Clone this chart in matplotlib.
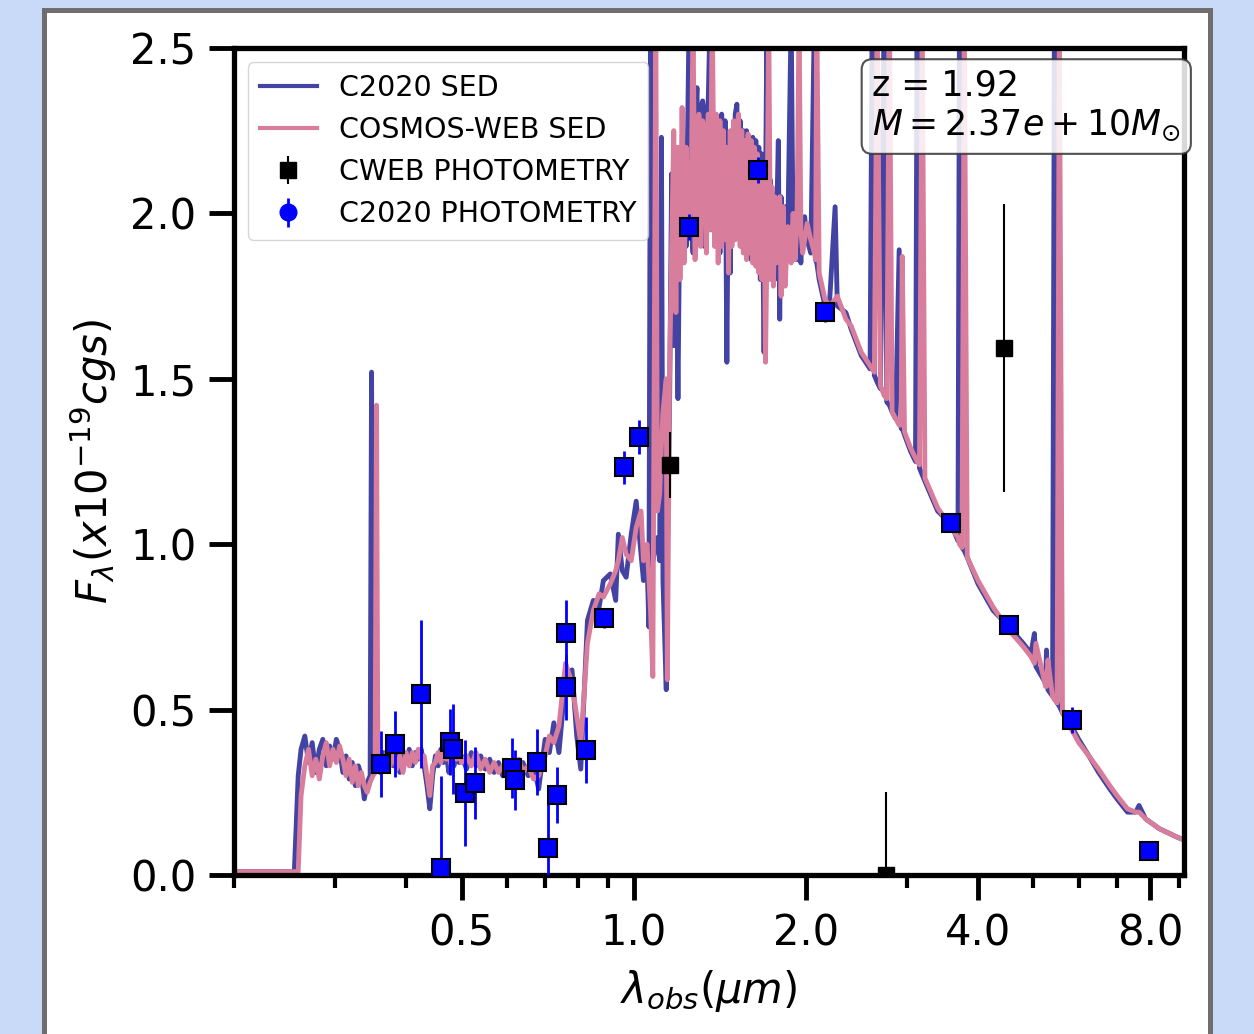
import numpy as np
import matplotlib
matplotlib.use('Agg')
import matplotlib.pyplot as plt
from matplotlib.patches import Rectangle
from matplotlib.ticker import FixedLocator, FixedFormatter, LogLocator, NullFormatter

# model SEDs (wavelength in micron, flux in 1e-19 cgs)
sed_wave = [
    # rest-UV, below the Lyman break and flat continuum
    0.200, 0.255, 0.259, 0.262, 0.266, 0.270, 0.274, 0.278, 0.282, 0.286,
    0.290, 0.294, 0.298, 0.302, 0.306, 0.310, 0.314, 0.318, 0.322, 0.326,
    0.330, 0.334, 0.338, 0.342,
    # Lya + continuum
    0.346, 0.348, 0.350, 0.353, 0.355, 0.357, 0.360, 0.365, 0.370, 0.375,
    0.380, 0.385, 0.390, 0.395, 0.400, 0.405, 0.410, 0.415, 0.420, 0.425,
    0.430, 0.435, 0.440, 0.445, 0.450, 0.455, 0.460, 0.465, 0.470, 0.475,
    0.480, 0.485, 0.490, 0.495, 0.500,
    # up to the break
    0.510, 0.520, 0.530, 0.540, 0.550, 0.560, 0.570, 0.580, 0.590, 0.600,
    0.610, 0.620, 0.630, 0.640, 0.654, 0.668, 0.682, 0.700, 0.712, 0.725,
    0.740, 0.760, 0.780, 0.795, 0.808, 0.830, 0.850, 0.870, 0.885, 0.910,
    0.930, 0.940, 0.955, 0.970, 0.990, 1.010, 1.030, 1.040, 1.055, 1.063,
    # peak region with lines
    1.070, 1.080, 1.093, 1.100, 1.110, 1.118, 1.125, 1.140, 1.145, 1.155,
    1.165, 1.175, 1.185, 1.195, 1.205, 1.215, 1.225, 1.235, 1.250, 1.262,
    1.270, 1.280, 1.290, 1.300, 1.310, 1.320, 1.330, 1.340, 1.350, 1.360,
    1.372, 1.385, 1.395, 1.405, 1.415, 1.425, 1.435, 1.445, 1.455, 1.465,
    1.475, 1.485, 1.495, 1.505, 1.515, 1.525, 1.535, 1.545, 1.555, 1.565,
    1.575, 1.585, 1.595, 1.605, 1.615, 1.625, 1.635, 1.645, 1.655, 1.665,
    1.675, 1.690, 1.700, 1.710, 1.722, 1.735, 1.745, 1.755, 1.765, 1.775,
    1.790, 1.800, 1.810, 1.825, 1.840, 1.860, 1.885, 1.900, 1.915, 1.930,
    1.946, 1.960, 1.975, 1.990, 2.010, 2.040, 2.070, 2.080, 2.090, 2.110,
    # red tail
    2.160, 2.200, 2.250, 2.270, 2.350, 2.400, 2.500, 2.590, 2.612, 2.635,
    2.665, 2.700, 2.740, 2.770, 2.800, 2.830, 2.870, 2.912, 2.935, 2.948,
    2.975, 3.050, 3.110, 3.130, 3.160, 3.195, 3.230, 3.400, 3.590, 3.690,
    3.712, 3.750, 3.785, 3.830, 4.000, 4.250, 4.530, 4.800, 4.950, 5.020,
    5.050, 5.250, 5.270, 5.300, 5.400, 5.440, 5.500, 5.550, 5.620, 5.830,
    6.000, 6.250, 6.500, 6.800, 7.000, 7.300, 7.550, 7.650, 7.850, 8.300,
    8.900, 9.200,
]
sed_c2020 = [
    0.01, 0.01, 0.30, 0.38, 0.42, 0.34, 0.40, 0.31, 0.38, 0.41,
    0.33, 0.39, 0.35, 0.41, 0.38, 0.31, 0.36, 0.29, 0.34, 0.27,
    0.33, 0.30, 0.23, 0.28,
    0.30, 1.52, 0.32, 0.34, 0.33, 0.36, 0.31, 0.37, 0.32, 0.38,
    0.33, 0.37, 0.31, 0.36, 0.34, 0.38, 0.33, 0.37, 0.35, 0.38,
    0.33, 0.27, 0.20, 0.30, 0.36, 0.33, 0.38, 0.34, 0.37, 0.31,
    0.36, 0.33, 0.38, 0.34, 0.36,
    0.32, 0.37, 0.33, 0.36, 0.32, 0.35, 0.31, 0.34, 0.30, 0.33,
    0.30, 0.34, 0.31, 0.34, 0.30, 0.33, 0.26, 0.41, 0.37, 0.46,
    0.37, 0.59, 0.62, 0.42, 0.32, 0.77, 0.83, 0.81, 0.89, 0.91,
    0.83, 1.03, 0.92, 0.90, 1.03, 1.13, 0.97, 0.89, 0.95, 0.75,
    2.60, 0.95, 1.00, 1.02, 0.95, 2.23, 0.89, 0.56, 0.97, 1.40,
    2.12, 1.60, 2.05, 1.44, 2.10, 1.85, 2.14, 1.90, 2.60, 1.95,
    1.88, 2.25, 2.38, 1.95, 2.32, 2.34, 1.90, 2.30, 2.34, 2.60,
    1.95, 2.28, 1.92, 2.25, 1.88, 2.30, 1.95, 2.28, 1.55, 2.20,
    1.82, 2.25, 1.95, 2.30, 2.33, 1.95, 2.28, 1.90, 2.25, 1.88,
    2.25, 1.90, 2.22, 1.86, 2.23, 1.85, 2.22, 1.84, 2.20, 1.80,
    2.18, 1.58, 2.05, 2.60, 1.85, 2.10, 1.82, 2.06, 1.80, 1.92,
    2.22, 1.68, 2.05, 1.80, 2.02, 1.95, 2.60, 1.90, 1.98, 1.86,
    1.95, 1.85, 1.97, 1.99, 1.92, 1.88, 2.60, 1.86, 1.85, 1.80,
    1.72, 1.73, 2.02, 1.72, 1.70, 1.65, 1.57, 1.53, 2.60, 1.51,
    1.49, 1.47, 2.60, 1.43, 1.42, 1.40, 1.38, 1.89, 1.35, 1.35,
    1.33, 1.28, 1.25, 2.60, 1.23, 1.21, 1.19, 1.10, 1.06, 1.01,
    2.60, 0.99, 0.98, 0.96, 0.88, 0.80, 0.75, 0.70, 0.67, 0.73,
    0.63, 0.58, 0.68, 0.56, 0.54, 2.60, 0.52, 0.51, 0.49, 0.45,
    0.41, 0.36, 0.31, 0.26, 0.23, 0.19, 0.19, 0.21, 0.17, 0.14,
    0.115, 0.105,
]
sed_cweb = [
    0.01, 0.01, 0.01, 0.24, 0.33, 0.38, 0.30, 0.35, 0.29, 0.36,
    0.40, 0.33, 0.38, 0.34, 0.39, 0.35, 0.30, 0.35, 0.28, 0.33,
    0.27, 0.31, 0.27, 0.25,
    0.28, 0.29, 0.30, 0.31, 1.42, 0.32, 0.35, 0.32, 0.37, 0.33,
    0.38, 0.32, 0.36, 0.31, 0.37, 0.33, 0.37, 0.34, 0.38, 0.35,
    0.36, 0.30, 0.24, 0.33, 0.34, 0.37, 0.34, 0.38, 0.35, 0.36,
    0.33, 0.38, 0.35, 0.37, 0.34,
    0.36, 0.33, 0.37, 0.32, 0.35, 0.31, 0.34, 0.31, 0.33, 0.30,
    0.34, 0.31, 0.35, 0.31, 0.33, 0.29, 0.30, 0.36, 0.42, 0.40,
    0.45, 0.64, 0.58, 0.48, 0.40, 0.70, 0.80, 0.85, 0.84, 0.88,
    0.92, 0.95, 1.02, 0.97, 0.95, 1.05, 1.10, 0.95, 1.00, 0.90,
    0.80, 0.60, 2.60, 1.10, 1.15, 1.30, 1.40, 1.50, 0.59, 1.50,
    1.90, 2.25, 1.70, 2.20, 1.80, 2.32, 1.85, 2.20, 1.95, 2.15,
    2.60, 1.86, 1.95, 2.30, 1.90, 2.28, 2.25, 1.88, 2.30, 1.95,
    2.60, 1.90, 2.30, 1.85, 2.28, 1.90, 2.25, 1.92, 2.20, 1.82,
    2.25, 1.90, 2.28, 1.92, 2.25, 2.30, 1.90, 2.25, 1.88, 2.22,
    1.86, 2.24, 1.88, 2.22, 1.85, 2.20, 1.84, 2.18, 1.82, 2.15,
    1.80, 2.10, 1.55, 1.90, 2.60, 1.80, 2.08, 1.78, 2.05, 1.85,
    1.95, 2.05, 1.75, 2.02, 1.78, 1.96, 1.85, 2.00, 1.86, 1.98,
    2.60, 1.95, 1.88, 1.92, 1.97, 1.92, 1.88, 1.86, 2.60, 1.82,
    1.74, 1.72, 1.74, 1.75, 1.68, 1.66, 1.58, 1.54, 1.53, 1.52,
    2.60, 1.48, 1.45, 1.44, 2.60, 1.40, 1.38, 1.36, 1.36, 1.87,
    1.34, 1.29, 1.26, 1.25, 1.24, 2.60, 1.20, 1.11, 1.05, 1.02,
    1.00, 0.99, 2.60, 0.96, 0.89, 0.81, 0.74, 0.69, 0.66, 0.64,
    0.70, 0.57, 0.57, 0.65, 0.54, 0.53, 0.52, 2.60, 0.49, 0.44,
    0.40, 0.36, 0.32, 0.27, 0.24, 0.20, 0.19, 0.19, 0.17, 0.14,
    0.115, 0.105,
]

# photometry
c20_wave = [0.362, 0.382, 0.424, 0.461, 0.477, 0.484, 0.506, 0.527, 0.612, 0.621,
            0.677, 0.707, 0.735, 0.762, 0.760, 0.824, 0.889, 0.961, 1.020, 1.249,
            1.650, 2.160, 3.590, 4.530, 5.830, 7.970]
c20_flux = [0.336, 0.396, 0.547, 0.020, 0.402, 0.381, 0.248, 0.278, 0.323, 0.287,
            0.342, 0.082, 0.242, 0.732, 0.568, 0.378, 0.777, 1.233, 1.324, 1.959,
            2.131, 1.702, 1.064, 0.756, 0.469, 0.073]
c20_err = [0.10, 0.10, 0.225, 0.28, 0.10, 0.135, 0.16, 0.11, 0.09, 0.09,
           0.10, 0.17, 0.085, 0.10, 0.10, 0.10, 0.03, 0.05, 0.05, 0.04,
           0.04, 0.03, 0.02, 0.02, 0.04, 0.02]

cw_wave = [1.156, 2.76, 4.45]
cw_flux = [1.239, 0.0, 1.593]
cw_err = [0.10, 0.25, 0.435]

xticks = [0.5, 1.0, 2.0, 4.0, 8.0]
xticklabels = ['0.5', '1.0', '2.0', '4.0', '8.0']
yticks = [0.0, 0.5, 1.0, 1.5, 2.0, 2.5]

fig = plt.figure(figsize=(12.54, 10.34), dpi=100)
fig.patch.set_facecolor('#c9daf8')
fig.add_artist(Rectangle((43.5 / 1254, -0.05), (1210 - 43.5) / 1254, 1.05 - 9.5 / 1034,
                         transform=fig.transFigure, facecolor='white',
                         edgecolor='#6e6e6e', linewidth=3.6, zorder=0))

ax = fig.add_axes([0.1866, 0.1538, 0.7572, 0.7998])

l1, = ax.plot(sed_wave, sed_c2020, color='#4343a3', lw=3.5, label='C2020 SED', zorder=2)
l2, = ax.plot(sed_wave, sed_cweb, color='#d97d9c', lw=3.5, label='COSMOS-WEB SED', zorder=2)

h_cw = ax.errorbar(cw_wave, cw_flux, yerr=cw_err, fmt='s', color='black', ms=11,
                   elinewidth=1.5, label='CWEB PHOTOMETRY', zorder=4)
ax.errorbar(c20_wave, c20_flux, yerr=c20_err, fmt='none', ecolor='blue',
            elinewidth=2, zorder=4)
ax.plot(c20_wave, c20_flux, 's', mfc='blue', mec='black', ms=13, mew=1.5, zorder=5)
# legend entry only
h_c20 = ax.errorbar([np.nan], [np.nan], yerr=[0.1], fmt='o', color='blue', ms=12,
                    elinewidth=2, label='C2020 PHOTOMETRY')

leg = ax.legend(handles=[l1, l2, h_cw, h_c20], loc='upper left', fontsize=20.5)
for ln in leg.get_lines()[:2]:
    ln.set_linewidth(3)

ax.text(0.672, 0.975, 'z = 1.92\n$M = 2.37e+10 M_{\\odot}$', transform=ax.transAxes,
        fontsize=25, va='top', ha='left', zorder=6,
        bbox=dict(boxstyle='round,pad=0.3', facecolor='white', alpha=0.85,
                  edgecolor='#333333', lw=1.5))

ax.set_xscale('log')
ax.set_xlim(0.2, 9.15)
ax.set_ylim(0, 2.5)
ax.xaxis.set_major_locator(FixedLocator(xticks))
ax.xaxis.set_major_formatter(FixedFormatter(xticklabels))
ax.xaxis.set_minor_locator(LogLocator(base=10, subs=np.arange(2, 10)))
ax.xaxis.set_minor_formatter(NullFormatter())
ax.set_yticks(yticks)
ax.set_yticklabels(['%.1f' % v for v in yticks])

ax.tick_params(which='major', length=18, width=3.5, labelsize=30, pad=9)
ax.tick_params(which='minor', length=9, width=3)
for s in ax.spines.values():
    s.set_linewidth(3.8)

ax.set_xlabel(r'$\lambda_{obs} (\mu m)$', fontsize=30, labelpad=10)
ax.set_ylabel(r'$F_{\lambda} (x10^{-19} cgs)$', fontsize=30, labelpad=8)

fig.savefig('out.png', dpi=100, facecolor=fig.get_facecolor())
